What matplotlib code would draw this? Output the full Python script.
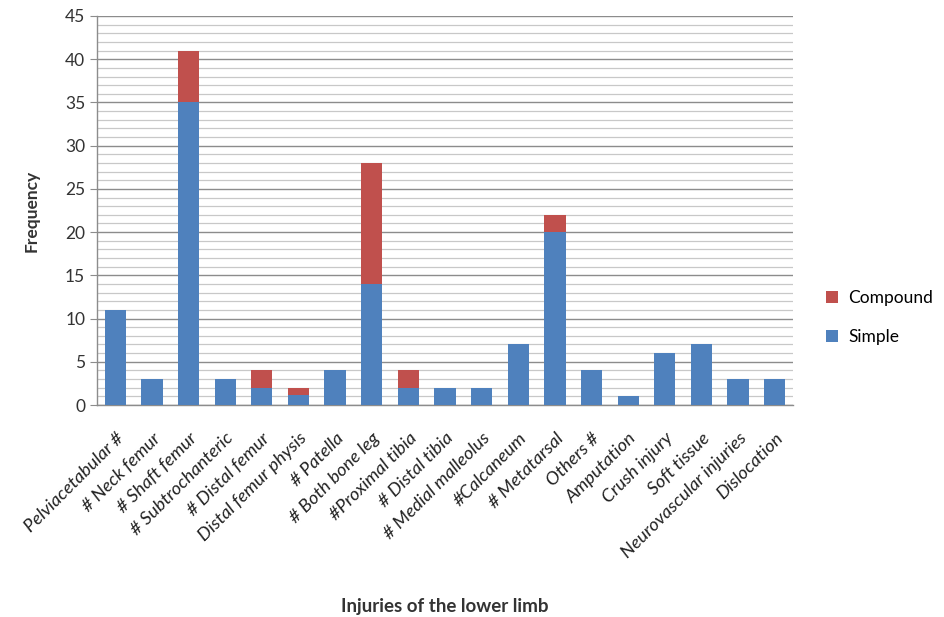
import matplotlib
matplotlib.use("Agg")
import matplotlib.pyplot as plt
from matplotlib.ticker import MultipleLocator

categories = ["Pelviacetabular #", "# Neck femur", "# Shaft femur", "# Subtrochanteric",
              "# Distal femur", "Distal femur physis", "# Patella", "# Both bone leg",
              "#Proximal tibia", "# Distal tibia", "# Medial malleolus", "#Calcaneum",
              "# Metatarsal", "Others #", "Amputation", "Crush injury", "Soft tissue",
              "Neurovascular injuries", "Dislocation"]
simple = [11, 3, 35, 3, 2, 1.2, 4, 14, 2, 2, 2, 7, 20, 4, 1, 6, 7, 3, 3]
compound = [0, 0, 6, 0, 2, 0.8, 0, 14, 2, 0, 0, 0, 2, 0, 0, 0, 0, 0, 0]

plt.rcParams['font.family'] = ['Lato', 'DejaVu Sans']

fig = plt.figure(figsize=(9.44, 6.17), dpi=100)
ax = fig.add_axes([97/944, 1-405/617, 696/944, 389/617])

x = list(range(len(categories)))
blue = "#4F81BD"
red = "#C0504D"
b1 = ax.bar(x, simple, width=0.58, color=blue, label="Simple", zorder=3)
b2 = ax.bar(x, compound, width=0.58, bottom=simple, color=red, label="Compound", zorder=3)

ax.set_xlim(-0.5, len(categories) - 0.5)
ax.set_ylim(0, 45)
ax.yaxis.set_major_locator(MultipleLocator(5))
ax.yaxis.set_minor_locator(MultipleLocator(1))
ax.grid(which="major", axis="y", color="#8c8c8c", linewidth=1.0, zorder=0)
ax.grid(which="minor", axis="y", color="#c8c8c8", linewidth=0.9, zorder=0)
ax.set_axisbelow(True)

for s in ["top", "right"]:
    ax.spines[s].set_visible(False)
for s in ["left", "bottom"]:
    ax.spines[s].set_color("#8c8c8c")
    ax.spines[s].set_linewidth(1.0)

ax.tick_params(axis="y", which="major", length=5, color="#8c8c8c", labelsize=12.5, labelcolor="#333333")
ax.tick_params(axis="y", which="minor", length=0)
ax.tick_params(axis="x", length=0, labelsize=13.2, labelcolor="#222222", pad=18)
ax.set_xticks(x)
ax.set_xticklabels(categories, rotation=45, ha="right", rotation_mode="anchor",
                   fontstyle="italic")

ax.set_ylabel("Frequency", fontsize=12.5, fontweight="bold", color="#333333", labelpad=18)
ax.set_xlabel("Injuries of the lower limb", fontsize=13.5, fontweight="bold", color="#333333")
ax.xaxis.set_label_coords(0.5, -0.495)

handles = [b2, b1]
ax.legend(handles, ["Compound", "Simple"], loc="center left", bbox_to_anchor=(1.025, 0.225),
          frameon=False, fontsize=12.5, handlelength=0.7, handleheight=0.7,
          labelspacing=1.35, handletextpad=0.6)

fig.savefig("out.png", dpi=100, facecolor="white")
